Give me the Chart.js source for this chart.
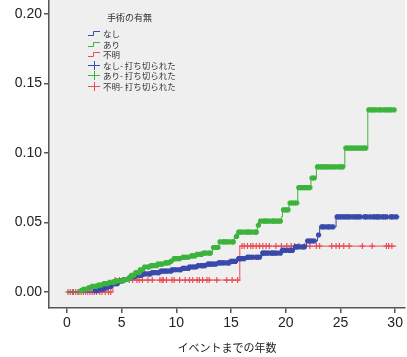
<!DOCTYPE html>
<html>
<head>
<meta charset="utf-8">
<script src="https://cdn.jsdelivr.net/npm/chart.js@4/dist/chart.umd.min.js"></script>
<style>
  html, body { margin: 0; padding: 0; background: #fff; }
  #wrap { position: relative; width: 407px; height: 357px; }
  #legend { position: absolute; left: 0; top: 0; font-family: "Noto Sans CJK JP", sans-serif; color: #333; }
  #legend .title { position: absolute; left: 107px; top: 11px; font-size: 9px; white-space: nowrap; }
  #legend .row { position: absolute; left: 87px; height: 10px; white-space: nowrap; font-size: 8.5px; line-height: 10px; }
  #legend .row svg { position: absolute; left: 0; top: 0; }
  #legend .row span { position: absolute; left: 16px; top: 0; }
</style>
</head>
<body>
<div id="wrap">
  <canvas id="c" width="407" height="357"></canvas>
  <div id="legend"></div>
</div>
<script>
// Cumulative incidence by surgery status: step curves [time, level] and censoring times
const groupNames = ['なし', 'あり', '不明'];
const groupColors = ['#3a4aab', '#3cb43c', '#ea4c55'];

const stepsNone = [
  [0, 0], [2.6, 0.001], [3.0, 0.002], [3.4, 0.003], [3.8, 0.004], [4.2, 0.006],
  [4.7, 0.008], [5.1, 0.009], [5.5, 0.010], [5.9, 0.011], [6.3, 0.012], [7.0, 0.013],
  [7.8, 0.014], [8.6, 0.015], [9.6, 0.016], [10.5, 0.017], [11.2, 0.018], [12.0, 0.019],
  [12.8, 0.020], [13.8, 0.021], [15.0, 0.022], [15.6, 0.024], [16.5, 0.025], [17.8, 0.028],
  [19.6, 0.030], [20.8, 0.0325], [21.9, 0.0367], [22.9, 0.041], [23.1, 0.0468], [24.6, 0.054],
  [30.4, 0.054]
];
const stepsYes = [
  [0, 0], [1.2, 0.001], [1.5, 0.002], [1.9, 0.003], [2.3, 0.004], [2.8, 0.005],
  [3.3, 0.006], [3.9, 0.007], [4.5, 0.008], [5.2, 0.009], [5.6, 0.010], [5.9, 0.012],
  [6.3, 0.014], [6.7, 0.016], [7.0, 0.018], [7.7, 0.019], [8.3, 0.020], [8.9, 0.021],
  [9.4, 0.022], [9.8, 0.024], [10.6, 0.025], [11.3, 0.026], [11.9, 0.027], [12.5, 0.028],
  [13.3, 0.032], [13.9, 0.036], [15.3, 0.040], [15.6, 0.043], [17.4, 0.048], [17.6, 0.051],
  [19.6, 0.054], [19.7, 0.059], [20.3, 0.064], [21.1, 0.075], [22.3, 0.082], [22.8, 0.090],
  [25.4, 0.1035], [27.5, 0.131], [30.1, 0.131]
];
const stepsUnknown = [
  [0, 0], [4.2, 0.0086], [15.8, 0.033], [30.1, 0.033]
];

const censorNone = [
  2.6, 2.8, 3.1, 3.3, 3.4, 3.6, 3.9, 4.0, 4.3, 4.4, 4.6, 4.9, 5.0, 5.2, 5.4, 5.7, 5.8, 6.0,
  6.2, 6.4, 6.7, 6.8, 7.0, 7.2, 7.5, 7.6, 7.8, 8.0, 8.3, 8.4, 8.6, 8.8, 9.0, 9.2, 9.5, 9.6,
  9.8, 10.0, 10.3, 10.4, 10.6, 10.8, 11.1, 11.2, 11.4, 11.6, 11.8, 12.0, 12.3, 12.4, 12.6,
  12.9, 13.0, 13.2, 13.4, 13.6, 13.9, 14.0, 14.2, 14.4, 14.7, 14.8, 15.0, 15.2, 15.4, 15.7,
  15.8, 16.0, 16.2, 16.5, 16.6, 16.8, 17.0, 17.3, 17.4, 17.6, 17.9, 18.0, 18.2, 18.4, 18.7,
  18.8, 19.0, 19.2, 19.5, 19.7, 19.8, 20.0, 20.3, 20.4, 20.6, 20.9, 21.0, 21.2, 21.5, 21.7,
  22.0, 22.2, 22.4, 22.6, 23.0, 23.3, 23.5, 23.8, 24.0, 24.3,
  24.7, 24.9, 25.1, 25.3, 25.5, 25.7, 25.9, 26.2, 26.4, 26.6, 26.8, 27.2, 27.4, 27.7,
  28.0, 28.2, 28.4, 28.5, 28.8, 29.0, 29.2, 29.6, 29.8, 30.1
];
const censorYes = [
  1.3, 1.5, 1.7, 2.0, 2.1, 2.3, 2.6, 2.7, 2.9, 3.1, 3.4, 3.5, 3.7, 3.9, 4.2, 4.3, 4.5, 4.7,
  5.0, 5.1, 5.3, 5.5, 5.8, 5.9, 6.1, 6.3, 6.6, 6.7, 6.9, 7.1, 7.4, 7.5, 7.7, 7.9, 8.2, 8.3,
  8.5, 8.7, 9.0, 9.1, 9.3, 9.5, 9.8, 9.9, 10.1, 10.3, 10.6, 10.7, 10.9, 11.1, 11.4, 11.5,
  11.7, 11.9, 12.2, 12.3, 12.5, 12.7, 13.0, 13.1, 13.4, 13.6, 13.8, 14.0, 14.3, 14.4, 14.6,
  14.8, 15.1, 15.2, 15.5, 15.7, 15.9, 16.1, 16.4, 16.5, 16.7, 16.9, 17.2, 17.3, 17.5, 17.7,
  18.0, 18.1, 18.3, 18.5, 18.8, 18.9, 19.1, 19.3, 19.5,
  19.8, 20.0, 20.2, 20.4, 20.6, 20.8, 21.0, 21.2, 21.4, 21.6, 21.8, 22.0, 22.2, 22.4, 22.6,
  22.9, 23.1, 23.3, 23.5, 23.7, 23.9, 24.1, 24.3, 24.5, 24.8, 25.0, 25.2,
  25.5, 25.7, 25.9, 26.1, 26.3, 26.5, 26.7, 26.9, 27.1, 27.3,
  27.6, 27.8, 28.0, 28.2, 28.5, 28.7, 29.0, 29.2, 29.4, 29.6, 29.9
];
const censorUnknown = [
  0.1, 0.3, 0.5, 0.6, 0.8, 1.0, 1.1, 1.3, 1.5, 1.7, 1.9, 2.1, 2.3, 2.5, 2.7, 3.0, 3.2, 3.5,
  3.8, 4.0, 4.4, 4.8, 5.3, 5.7, 6.0, 6.4, 6.6, 6.9, 7.4, 7.8, 8.5, 8.7, 8.8, 9.1, 9.6, 9.8,
  10.3, 10.8, 11.2, 11.5, 11.9, 12.1, 12.4, 12.8, 13.0, 13.7, 14.6, 15.1, 15.6, 16.0, 16.2,
  16.5, 16.8, 17.0, 17.3, 17.6, 17.9, 18.2, 18.5, 19.1, 19.6, 20.1, 20.5, 20.8, 21.2, 21.7,
  22.2, 22.8, 23.1, 24.2, 24.6, 24.9, 25.3, 25.8, 27.0, 27.9, 29.2, 29.4, 29.7
];

const xTicks = [0, 5, 10, 15, 20, 25, 30];
const yTicks = [0, 0.05, 0.10, 0.15, 0.20];
const legendTitle = '手術の有無';
const censorSuffix = '- 打ち切られた';
const xTitle = 'イベントまでの年数';

// level of a step curve at time t (last step at or before t)
function levelAt(steps, t) {
  let v = steps[0][1];
  for (const [s, l] of steps) { if (s <= t) v = l; else break; }
  return v;
}

const groups = [
  { steps: stepsNone, censor: censorNone, markRadius: 2.6, markWidth: 3.2 },
  { steps: stepsYes, censor: censorYes, markRadius: 2.6, markWidth: 3.2 },
  { steps: stepsUnknown, censor: censorUnknown, markRadius: 3, markWidth: 1.2 }
];

// green first, then blue, red on top
const drawOrder = [1, 0, 2];
const datasets = [];
drawOrder.forEach(i => {
  const g = groups[i];
  datasets.push({
    label: groupNames[i],
    data: g.steps.map(([t, l]) => ({ x: t, y: l })),
    showLine: true,
    stepped: true,
    borderColor: groupColors[i],
    borderWidth: 1,
    pointRadius: 0,
    fill: false
  });
  datasets.push({
    label: groupNames[i] + censorSuffix,
    data: g.censor.map(t => ({ x: t, y: levelAt(g.steps, t) })),
    showLine: false,
    pointStyle: 'cross',
    pointRadius: g.markRadius,
    pointBorderWidth: g.markWidth,
    pointBorderColor: groupColors[i],
    pointBackgroundColor: groupColors[i]
  });
});

const plotBackground = {
  id: 'plotBackground',
  beforeDraw(chart) {
    const { ctx, chartArea: a } = chart;
    ctx.save();
    ctx.fillStyle = '#efefef';
    ctx.fillRect(a.left, a.top, a.right - a.left, a.bottom - a.top);
    ctx.restore();
  }
};

const axisColor = '#555';
new Chart(document.getElementById('c'), {
  type: 'scatter',
  data: { datasets },
  options: {
    responsive: false,
    animation: false,
    devicePixelRatio: 1,
    layout: { autoPadding: false, padding: { top: 0, right: 2, left: 0, bottom: 0 } },
    plugins: { legend: { display: false }, tooltip: { enabled: false } },
    scales: {
      x: {
        type: 'linear',
        min: -1.64,
        max: 30.9,
        afterBuildTicks: s => { s.ticks = xTicks.map(v => ({ value: v })); },
        afterFit: s => { s.height = 49; s.paddingLeft = 0; s.paddingRight = 0; },
        ticks: {
          callback: v => String(v),
          font: { family: 'Liberation Sans', size: 14 },
          color: '#222',
          padding: 2,
          maxRotation: 0,
          autoSkip: false
        },
        grid: { display: true, drawOnChartArea: false, drawTicks: true, tickLength: 5, color: axisColor, lineWidth: 1.5 },
        border: { display: true, color: axisColor, width: 1.5 },
        title: {
          display: true,
          text: xTitle,
          font: { family: 'Noto Sans CJK JP', size: 11 },
          color: '#222',
          padding: { top: 0, bottom: 3 }
        }
      },
      y: {
        type: 'linear',
        min: -0.0115,
        max: 0.21,
        afterBuildTicks: s => { s.ticks = yTicks.map(v => ({ value: v })); },
        afterFit: s => { s.width = 49; s.paddingTop = 0; s.paddingBottom = 0; },
        ticks: {
          callback: v => Number(v).toFixed(2),
          font: { family: 'Liberation Sans', size: 14 },
          color: '#222',
          padding: 2
        },
        grid: { display: true, drawOnChartArea: false, drawTicks: true, tickLength: 5, color: axisColor, lineWidth: 1.5 },
        border: { display: true, color: axisColor, width: 1.5 }
      }
    }
  },
  plugins: [plotBackground]
});

// legend: step icons for curves, cross icons for censoring marks
const legend = document.getElementById('legend');
const t = document.createElement('div');
t.className = 'title';
t.textContent = legendTitle;
legend.appendChild(t);
const rowTops = [28, 38.5, 49, 59.5, 70, 80.5];
for (let k = 0; k < 6; k++) {
  const i = k % 3;
  const isCensor = k >= 3;
  const row = document.createElement('div');
  row.className = 'row';
  row.style.top = rowTops[k] + 'px';
  const c = groupColors[i];
  const icon = isCensor
    ? `<svg width="14" height="10"><line x1="1" y1="5.5" x2="13" y2="5.5" stroke="${c}" stroke-width="1"/><line x1="7.5" y1="1" x2="7.5" y2="10" stroke="${c}" stroke-width="1"/></svg>`
    : `<svg width="14" height="10"><polyline points="1,7.5 6.5,7.5 6.5,3.5 13,3.5" fill="none" stroke="${c}" stroke-width="1"/></svg>`;
  const label = groupNames[i] + (isCensor ? censorSuffix : '');
  row.innerHTML = icon + '<span></span>';
  row.querySelector('span').textContent = label;
  legend.appendChild(row);
}
</script>
</body>
</html>
